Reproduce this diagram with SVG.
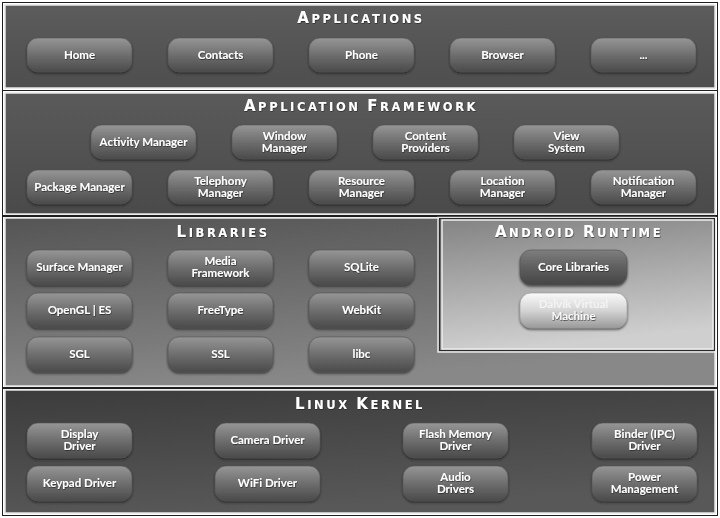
<svg xmlns="http://www.w3.org/2000/svg" width="720" height="518" viewBox="0 0 720 518">
<defs>
<linearGradient id="gApps" x1="0" y1="0" x2="0" y2="1"><stop offset="0" stop-color="#5c5c5c"/><stop offset="1" stop-color="#4e4e4e"/></linearGradient>
<linearGradient id="gFw" x1="0" y1="0" x2="0" y2="1"><stop offset="0" stop-color="#5a5a5a"/><stop offset="1" stop-color="#4a4a4a"/></linearGradient>
<linearGradient id="gLib" x1="0" y1="0" x2="0.3" y2="1"><stop offset="0" stop-color="#555555"/><stop offset="1" stop-color="#888888"/></linearGradient>
<linearGradient id="gAR" x1="0" y1="0" x2="0.2" y2="1"><stop offset="0" stop-color="#848484"/><stop offset="1" stop-color="#cfcfcf"/></linearGradient>
<linearGradient id="gKer" x1="0" y1="0" x2="0.3" y2="1"><stop offset="0" stop-color="#3c3c3c"/><stop offset="1" stop-color="#585858"/></linearGradient>
<linearGradient id="gBtn" x1="0" y1="0" x2="0" y2="1"><stop offset="0" stop-color="#969696"/><stop offset="0.5" stop-color="#6e6e6e"/><stop offset="1" stop-color="#4a4a4a"/></linearGradient>
<linearGradient id="gCore" x1="0" y1="0" x2="0" y2="1"><stop offset="0" stop-color="#7e7e7e"/><stop offset="0.5" stop-color="#5e5e5e"/><stop offset="1" stop-color="#454545"/></linearGradient>
<linearGradient id="gDal" x1="0" y1="0" x2="0" y2="1"><stop offset="0" stop-color="#fafafa"/><stop offset="0.5" stop-color="#d4d4d4"/><stop offset="1" stop-color="#9a9a9a"/></linearGradient>
<filter id="sh" x="-10%" y="-20%" width="120%" height="150%"><feDropShadow dx="0" dy="1.5" stdDeviation="1.2" flood-color="#1a1a1a" flood-opacity="0.7"/></filter>
<filter id="tsh" x="-10%" y="-30%" width="120%" height="160%"><feDropShadow dx="0.5" dy="0.8" stdDeviation="0.4" flood-color="#222" flood-opacity="0.8"/></filter>
</defs>
<style>
.outer{fill:none;stroke:#1e1e1e;stroke-width:1}
.inner{stroke:#e6e6e6;stroke-width:1.5}
.btn{fill:url(#gBtn);stroke:#555;stroke-width:0.6;filter:url(#sh)}
.lbl{font-family:Lato,"Open Sans",sans-serif;font-weight:bold;font-size:11.5px;fill:#ffffff;text-anchor:middle;filter:url(#tsh)}
.ttl{font-family:"DejaVu Sans",sans-serif;font-weight:bold;font-size:11.5px;fill:#ffffff;text-anchor:middle;letter-spacing:2.6px;filter:url(#tsh)}
.cap{font-size:15px}
</style>
<rect width="720" height="518" fill="#ffffff"/>

<g id="panel-applications">
<rect class="outer" x="2.5" y="2.5" width="715" height="88"/>
<rect class="inner" x="5" y="5" width="710" height="83" fill="url(#gApps)"/>
<text class="ttl" x="361" y="23"><tspan class="cap">A</tspan>PPLICATIONS</text>
</g>
<g id="panel-framework">
<rect class="outer" x="2.5" y="90.5" width="715" height="126"/>
<rect class="inner" x="5" y="93" width="710" height="121" fill="url(#gFw)"/>
<text class="ttl" x="361" y="111"><tspan class="cap">A</tspan>PPLICATION <tspan class="cap">F</tspan>RAMEWORK</text>
</g>
<g id="panel-libraries">
<rect class="outer" x="2.5" y="215.5" width="715" height="173"/>
<rect class="inner" x="5" y="218" width="710" height="168" fill="url(#gLib)"/>
<text class="ttl" x="223" y="237"><tspan class="cap">L</tspan>IBRARIES</text>
</g>
<g id="panel-android-runtime">
<rect x="438" y="217.5" width="277" height="134.5" fill="none" stroke="#e6e6e6" stroke-width="1.5"/>
<rect x="439.5" y="218.5" width="275" height="132" fill="none" stroke="#2a2a2a" stroke-width="1"/>
<rect x="442" y="220" width="271" height="129" fill="url(#gAR)" stroke="#eeeeee" stroke-width="1.5"/>
<text class="ttl" x="579" y="237"><tspan class="cap">A</tspan>NDROID <tspan class="cap">R</tspan>UNTIME</text>
</g>
<g id="panel-linux-kernel">
<rect class="outer" x="2.5" y="387.5" width="715" height="128"/>
<rect class="inner" x="5" y="390" width="710" height="123" fill="url(#gKer)"/>
<text class="ttl" x="360" y="409"><tspan class="cap">L</tspan>INUX <tspan class="cap">K</tspan>ERNEL</text>
</g>

<g id="connectors"></g>

<!-- Applications -->
<g id="home"><rect class="btn" x="27" y="38" width="105" height="34" rx="11"/><text class="lbl" x="79.5" y="59">Home</text></g>
<g id="contacts"><rect class="btn" x="168" y="38" width="105" height="34" rx="11"/><text class="lbl" x="220.5" y="59">Contacts</text></g>
<g id="phone"><rect class="btn" x="309" y="38" width="105" height="34" rx="11"/><text class="lbl" x="361.5" y="59">Phone</text></g>
<g id="browser"><rect class="btn" x="450" y="38" width="105" height="34" rx="11"/><text class="lbl" x="502.5" y="59">Browser</text></g>
<g id="more"><rect class="btn" x="591" y="38" width="105" height="34" rx="11"/><text class="lbl" x="643.5" y="59">...</text></g>

<!-- Application Framework -->
<g id="activity-manager"><rect class="btn" x="91" y="125" width="105" height="34" rx="11"/><text class="lbl" x="143.5" y="146">Activity Manager</text></g>
<g id="window-manager"><rect class="btn" x="232" y="125" width="105" height="34" rx="11"/><text class="lbl" x="284.5" y="140">Window</text><text class="lbl" x="284.5" y="152">Manager</text></g>
<g id="content-providers"><rect class="btn" x="373" y="125" width="105" height="34" rx="11"/><text class="lbl" x="425.5" y="140">Content</text><text class="lbl" x="425.5" y="152">Providers</text></g>
<g id="view-system"><rect class="btn" x="514" y="125" width="105" height="34" rx="11"/><text class="lbl" x="566.5" y="140">View</text><text class="lbl" x="566.5" y="152">System</text></g>
<g id="package-manager"><rect class="btn" x="27" y="170" width="105" height="34" rx="11"/><text class="lbl" x="79.5" y="191">Package Manager</text></g>
<g id="telephony-manager"><rect class="btn" x="168" y="170" width="105" height="34" rx="11"/><text class="lbl" x="220.5" y="185">Telephony</text><text class="lbl" x="220.5" y="197">Manager</text></g>
<g id="resource-manager"><rect class="btn" x="309" y="170" width="105" height="34" rx="11"/><text class="lbl" x="361.5" y="185">Resource</text><text class="lbl" x="361.5" y="197">Manager</text></g>
<g id="location-manager"><rect class="btn" x="450" y="170" width="105" height="34" rx="11"/><text class="lbl" x="502.5" y="185">Location</text><text class="lbl" x="502.5" y="197">Manager</text></g>
<g id="notification-manager"><rect class="btn" x="591" y="170" width="105" height="34" rx="11"/><text class="lbl" x="643.5" y="185">Notification</text><text class="lbl" x="643.5" y="197">Manager</text></g>

<!-- Libraries -->
<g id="surface-manager"><rect class="btn" x="27" y="250" width="105" height="35" rx="11"/><text class="lbl" x="79.5" y="271">Surface Manager</text></g>
<g id="media-framework"><rect class="btn" x="168" y="250" width="105" height="35" rx="11"/><text class="lbl" x="220.5" y="265">Media</text><text class="lbl" x="220.5" y="277">Framework</text></g>
<g id="sqlite"><rect class="btn" x="309" y="250" width="105" height="35" rx="11"/><text class="lbl" x="361.5" y="271">SQLite</text></g>
<g id="opengl-es"><rect class="btn" x="27" y="293" width="105" height="35" rx="11"/><text class="lbl" x="79.5" y="314">OpenGL | ES</text></g>
<g id="freetype"><rect class="btn" x="168" y="293" width="105" height="35" rx="11"/><text class="lbl" x="220.5" y="314">FreeType</text></g>
<g id="webkit"><rect class="btn" x="309" y="293" width="105" height="35" rx="11"/><text class="lbl" x="361.5" y="314">WebKit</text></g>
<g id="sgl"><rect class="btn" x="27" y="337" width="105" height="35" rx="11"/><text class="lbl" x="79.5" y="358">SGL</text></g>
<g id="ssl"><rect class="btn" x="168" y="337" width="105" height="35" rx="11"/><text class="lbl" x="220.5" y="358">SSL</text></g>
<g id="libc"><rect class="btn" x="309" y="337" width="105" height="35" rx="11"/><text class="lbl" x="361.5" y="358">libc</text></g>

<!-- Android Runtime -->
<g id="core-libraries"><rect x="520" y="250" width="107" height="35" rx="11" fill="url(#gCore)" stroke="#555" stroke-width="0.6" filter="url(#sh)"/><text class="lbl" x="573.5" y="271">Core Libraries</text></g>
<g id="dalvik-vm"><rect x="520" y="293" width="107" height="35" rx="11" fill="url(#gDal)" stroke="#999" stroke-width="0.6" filter="url(#sh)"/><text class="lbl" x="573.5" y="308" style="fill:#f4f4f4;filter:none">Dalvik Virtual</text><text class="lbl" x="573.5" y="320" style="fill:#f8f8f8">Machine</text></g>

<!-- Linux Kernel -->
<g id="display-driver"><rect class="btn" x="27" y="423" width="105" height="35" rx="11"/><text class="lbl" x="79.5" y="438">Display</text><text class="lbl" x="79.5" y="450">Driver</text></g>
<g id="camera-driver"><rect class="btn" x="215" y="423" width="105" height="35" rx="11"/><text class="lbl" x="267.5" y="444">Camera Driver</text></g>
<g id="flash-memory-driver"><rect class="btn" x="403" y="423" width="105" height="35" rx="11"/><text class="lbl" x="455.5" y="438">Flash Memory</text><text class="lbl" x="455.5" y="450">Driver</text></g>
<g id="binder-ipc-driver"><rect class="btn" x="592" y="423" width="105" height="35" rx="11"/><text class="lbl" x="644.5" y="438">Binder (IPC)</text><text class="lbl" x="644.5" y="450">Driver</text></g>
<g id="keypad-driver"><rect class="btn" x="27" y="466" width="105" height="35" rx="11"/><text class="lbl" x="79.5" y="487">Keypad Driver</text></g>
<g id="wifi-driver"><rect class="btn" x="215" y="466" width="105" height="35" rx="11"/><text class="lbl" x="267.5" y="487">WiFi Driver</text></g>
<g id="audio-drivers"><rect class="btn" x="403" y="466" width="105" height="35" rx="11"/><text class="lbl" x="455.5" y="481">Audio</text><text class="lbl" x="455.5" y="493">Drivers</text></g>
<g id="power-management"><rect class="btn" x="592" y="466" width="105" height="35" rx="11"/><text class="lbl" x="644.5" y="481">Power</text><text class="lbl" x="644.5" y="493">Management</text></g>
</svg>
